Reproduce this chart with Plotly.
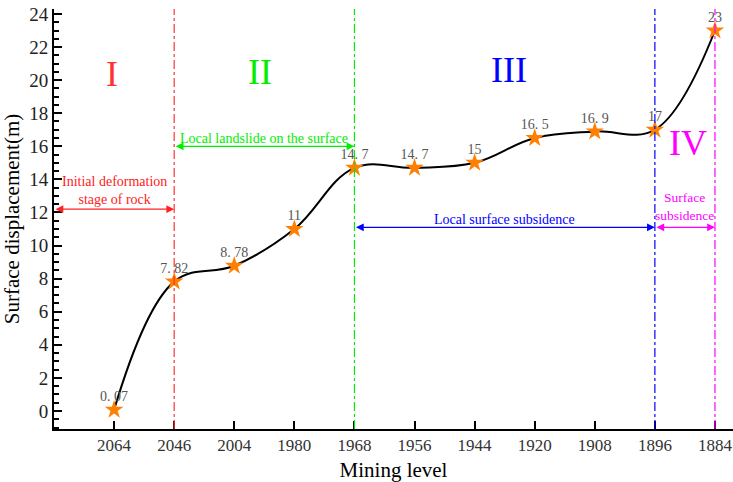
import plotly.graph_objects as go

levels = ["2064", "2046", "2004", "1980", "1968", "1956", "1944", "1920", "1908", "1896", "1884"]
displacement = [0.07, 7.82, 8.78, 11, 14.7, 14.7, 15, 16.5, 16.9, 17, 23]
point_labels = ["0. 07", "7. 82", "8. 78", "11", "14. 7", "14. 7", "15", "16. 5", "16. 9", "17", "23"]

stage_bounds = ["2046", "1968", "1896", "1884"]
stage_colors = ["#FF3333", "#00EE00", "#0000FF", "#FF00FF"]
stage_names = ["I", "II", "III", "IV"]

FONT = "'Liberation Serif', 'Times New Roman', 'DejaVu Serif', serif"
idx = {c: i for i, c in enumerate(levels)}
xs = list(range(len(levels)))

fig = go.Figure()
fig.add_trace(go.Scatter(
    x=xs, y=displacement,
    mode="lines+markers",
    line=dict(color="black", width=2, shape="spline", smoothing=1.1),
    marker=dict(symbol="star", size=14, color="#FF8000", line=dict(width=0)),
    showlegend=False, cliponaxis=False,
))
fig.add_trace(go.Scatter(
    x=xs, y=displacement, mode="markers+text",
    marker=dict(size=7, opacity=0),
    text=point_labels, textposition="top center",
    textfont=dict(family=FONT, size=14, color="#555555"),
    showlegend=False, cliponaxis=False, hoverinfo="skip",
))

for b, c in zip(stage_bounds, stage_colors):
    fig.add_shape(type="line", xref="x", yref="y", x0=idx[b], x1=idx[b],
                  y0=-1.09, y1=24.3, line=dict(color=c, width=1.2, dash="dashdot"))

# Roman numerals
roman_pos = [(-0.03, 20.4), (2.42, 20.5), (6.57, 20.6), (9.55, 16.2)]
for name, c, (x, y) in zip(stage_names, stage_colors, roman_pos):
    fig.add_annotation(x=x, y=y, text=name, showarrow=False,
                       font=dict(family=FONT, size=36, color=c))

# double arrows
arrows = [
    (-1, idx["2046"], 12.2, "#FF2222"),
    (idx["2046"], idx["1968"], 16.0, "#00EE00"),
    (idx["1968"], idx["1896"], 11.1, "#0000FF"),
    (idx["1896"], idx["1884"], 11.1, "#FF00FF"),
]
for x0, x1, y, c in arrows:
    fig.add_annotation(x=x1, y=y, ax=x0, ay=y, xref="x", yref="y", axref="x", ayref="y",
                       text="", showarrow=True, arrowhead=2, arrowside="end+start",
                       arrowsize=1.2, arrowwidth=1.3, arrowcolor=c)

texts = [
    ((-1 + idx["2046"]) / 2, 13.3, "Initial deformation<br>stage of rock", "#FF2222", 14),
    ((idx["2046"] + idx["1968"]) / 2, 16.45, "Local landslide on the surface", "#00EE00", 14),
    ((idx["1968"] + idx["1896"]) / 2, 11.6, "Local surface subsidence", "#0000FF", 14),
    ((idx["1896"] + idx["1884"]) / 2, 12.35, "Surface<br>subsidence", "#FF00FF", 13.5),
]
for x, y, t, c, s in texts:
    fig.add_annotation(x=x, y=y, text=t, showarrow=False,
                       font=dict(family=FONT, size=s, color=c))

fig.update_layout(
    width=733, height=482,
    margin=dict(l=54, r=0, t=9, b=53),
    plot_bgcolor="white", paper_bgcolor="white",
    font=dict(family=FONT),
)
fig.update_xaxes(
    range=[-1, 10.3], tickmode="array", tickvals=xs, ticktext=levels,
    showgrid=False, zeroline=False, showline=True, linecolor="black", linewidth=2,
    ticks="inside", ticklen=8, tickwidth=2, tickcolor="black",
    tickfont=dict(family=FONT, size=17, color="#333333"),
    title=dict(text="Mining level", font=dict(family=FONT, size=21, color="black"), standoff=8),
)
fig.update_yaxes(
    range=[-1.09, 24.3], tickmode="linear", tick0=0, dtick=2,
    showgrid=False, zeroline=False, showline=True, linecolor="black", linewidth=2,
    ticks="inside", ticklen=8, tickwidth=2, tickcolor="black",
    minor=dict(ticks="inside", ticklen=5, tickwidth=1.5, dtick=0.5, tick0=0, tickcolor="black"),
    tickfont=dict(family=FONT, size=19, color="#222222"),
    title=dict(text="Surface displacement(m)", font=dict(family=FONT, size=21, color="black"), standoff=6),
)

fig.write_html("out.html")
